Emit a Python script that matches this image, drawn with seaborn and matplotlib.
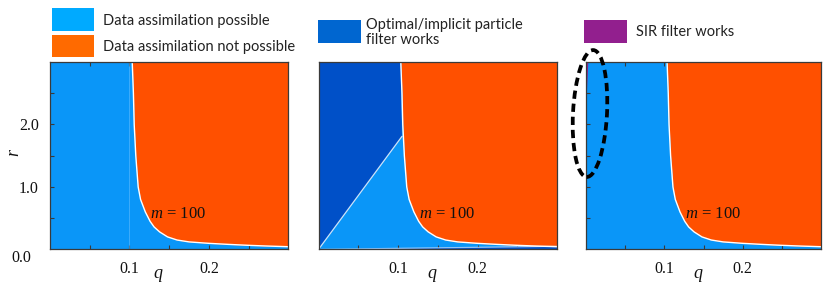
import numpy as np
import pandas as pd
import matplotlib
matplotlib.use("Agg")
import matplotlib.pyplot as plt
import seaborn as sns
from matplotlib.patches import Rectangle, Ellipse

# ---------------- data ----------------
q_ticks = [0.1, 0.2]
q_tick_labels = ["0.1", "0.2"]
r_ticks = [1.0, 2.0]
r_tick_labels = ["1.0", "2.0"]
q_limits = [0.0, 0.3]
r_limits = [0.0, 3.0]

# boundary between "possible" and "not possible"
boundary_r = [3.0, 2.5, 2.0, 1.5, 1.0, 0.8, 0.6, 0.45, 0.36, 0.28, 0.2,
              0.15, 0.12, 0.097, 0.08, 0.065, 0.053, 0.043]
boundary_q = [0.1035, 0.105, 0.106, 0.108, 0.111, 0.114, 0.120, 0.126,
              0.131, 0.138, 0.148, 0.160, 0.175, 0.200, 0.225, 0.250,
              0.275, 0.300]

# optimal/implicit particle filter region (middle panel)
optimal_upper_q = [0.0, 0.105, 0.1035, 0.0]
optimal_upper_r = [0.0, 1.81, 3.0, 3.0]
optimal_lower_q = [0.0, 0.3, 0.3]
optimal_lower_r = [0.0, 0.05, 0.0]

# SIR filter region (right panel)
sir_q = [0.0, 0.003, 0.0]
sir_r = [2.2, 3.0, 3.0]

legend_labels = ["Data assimilation possible", "Data assimilation not possible",
                 "Optimal/implicit particle\nfilter works", "SIR filter works"]
annotation = r"$m$ = 100"

# ---------------- style ----------------
sns.set_theme(style="ticks")
plt.rcParams["font.family"] = ["Liberation Serif", "DejaVu Serif"]
plt.rcParams["mathtext.fontset"] = "custom"
plt.rcParams["mathtext.it"] = "Liberation Serif:italic"
plt.rcParams["mathtext.rm"] = "Liberation Serif"

C_LIGHT = "#0A96F8"
C_ORANGE = "#FF5000"
C_DARK = "#0050C8"
C_PURPLE = "#921F8E"
L_LIGHT = "#00AAFF"
L_ORANGE = "#FF6A00"
L_DARK = "#0066D0"
SPINE = "#3a3a3a"

W, H = 830, 287
fig = plt.figure(figsize=(W / 100, H / 100), dpi=100)


def rect(l, t, r, b):
    return [l / W, 1 - b / H, (r - l) / W, (b - t) / H]


panels = [(50, 62, 288.3, 249.4), (318.5, 62, 557, 249.4), (586, 62, 821, 249.4)]
axes = [fig.add_axes(rect(*p)) for p in panels]

bdf = pd.DataFrame({"q": boundary_q, "r": boundary_r})

for i, ax in enumerate(axes):
    ax.set_facecolor(C_LIGHT)
    if i == 1:
        ax.fill(optimal_upper_q, optimal_upper_r, color=C_DARK, lw=0)
        ax.fill(optimal_lower_q, optimal_lower_r, color=C_DARK, lw=0)
        sns.lineplot(x=optimal_upper_q[:2], y=optimal_upper_r[:2], ax=ax,
                     color="white", lw=0.9, alpha=0.8, sort=False, estimator=None)
        sns.lineplot(x=optimal_lower_q[:2], y=optimal_lower_r[:2], ax=ax,
                     color="#cfe6ff", lw=0.9, alpha=0.7, sort=False, estimator=None)
    if i == 0:
        ax.axvline(0.1, color="#6cc0ff", lw=0.6, alpha=0.6)
    ax.fill_betweenx(boundary_r, boundary_q, q_limits[1], color=C_ORANGE, lw=0)
    sns.lineplot(data=bdf, x="q", y="r", ax=ax, color="white", lw=1.0,
                 sort=False, estimator=None)
    if i == 2:
        ax.fill(sir_q, sir_r, color=C_PURPLE, lw=0)
    ax.text(0.1265, 0.56, annotation, fontsize=12, color="#111111",
            ha="left", va="center")

    ax.set_xlim(*q_limits)
    ax.set_ylim(*r_limits)
    ax.set_xlabel("")
    ax.set_ylabel("")
    ax.set_xticks(np.arange(0.05, 0.3, 0.05))
    ax.set_xticklabels(["", q_tick_labels[0], "", q_tick_labels[1], ""])
    ax.set_yticks(np.arange(0.5, 3.0, 0.5))
    if i == 0:
        ax.set_yticklabels(["", r_tick_labels[0], "", r_tick_labels[1], ""])
        ax.text(-0.0235, -0.14, "0.0", transform=ax.transData, fontsize=11.5,
                ha="right", va="center", color="#111111")
    else:
        ax.set_yticklabels([])
    ax.tick_params(direction="in", length=3, width=0.8, color=SPINE,
                   top=True, right=True, labelsize=11.5, labelcolor="#111111")
    ax.tick_params(axis="x", pad=8)
    ax.tick_params(axis="y", pad=8)
    for s in ax.spines.values():
        s.set_color(SPINE)
        s.set_linewidth(0.9)
        s.set_visible(True)

# axis labels
for x in (158, 432, 698):
    fig.text(x / W, 1 - 274 / H, "q", fontsize=13, style="italic",
             ha="center", va="center", color="#111111")
fig.text(14 / W, 1 - 152 / H, "r", fontsize=13, style="italic", rotation=90,
         ha="center", va="center", color="#111111")

# legend patches and text
sans = ["Lato", "DejaVu Sans"]
legend_items = [
    ((51.7, 8.3, 94, 31), L_LIGHT, legend_labels[0], 102.5, 20.5),
    ((51.7, 35, 94, 57), L_ORANGE, legend_labels[1], 102.5, 46.5),
    ((318.3, 20, 361, 43.3), L_DARK, legend_labels[2], 366, 32.5),
    ((584.3, 20, 627.3, 43.3), C_PURPLE, legend_labels[3], 636, 32.3),
]
for (l, t, r, b), col, txt, tx, ty in legend_items:
    fig.patches.append(Rectangle((l / W, 1 - b / H), (r - l) / W, (b - t) / H,
                                 transform=fig.transFigure, facecolor=col,
                                 edgecolor="none", zorder=3))
    fig.text(tx / W, 1 - ty / H, txt, fontsize=10.5, family=sans, color="#222222",
             ha="left", va="center", linespacing=1.15)

# dashed ellipse highlighting the SIR region
ell = Ellipse((590 / 100, (H - 113.5) / 100), 0.34, 1.27, angle=-3,
              transform=fig.dpi_scale_trans, fill=False, edgecolor="black",
              lw=2.7, linestyle=(0, (2.2, 1.3)), zorder=10)
fig.patches.append(ell)

fig.savefig("out.png", dpi=100)
